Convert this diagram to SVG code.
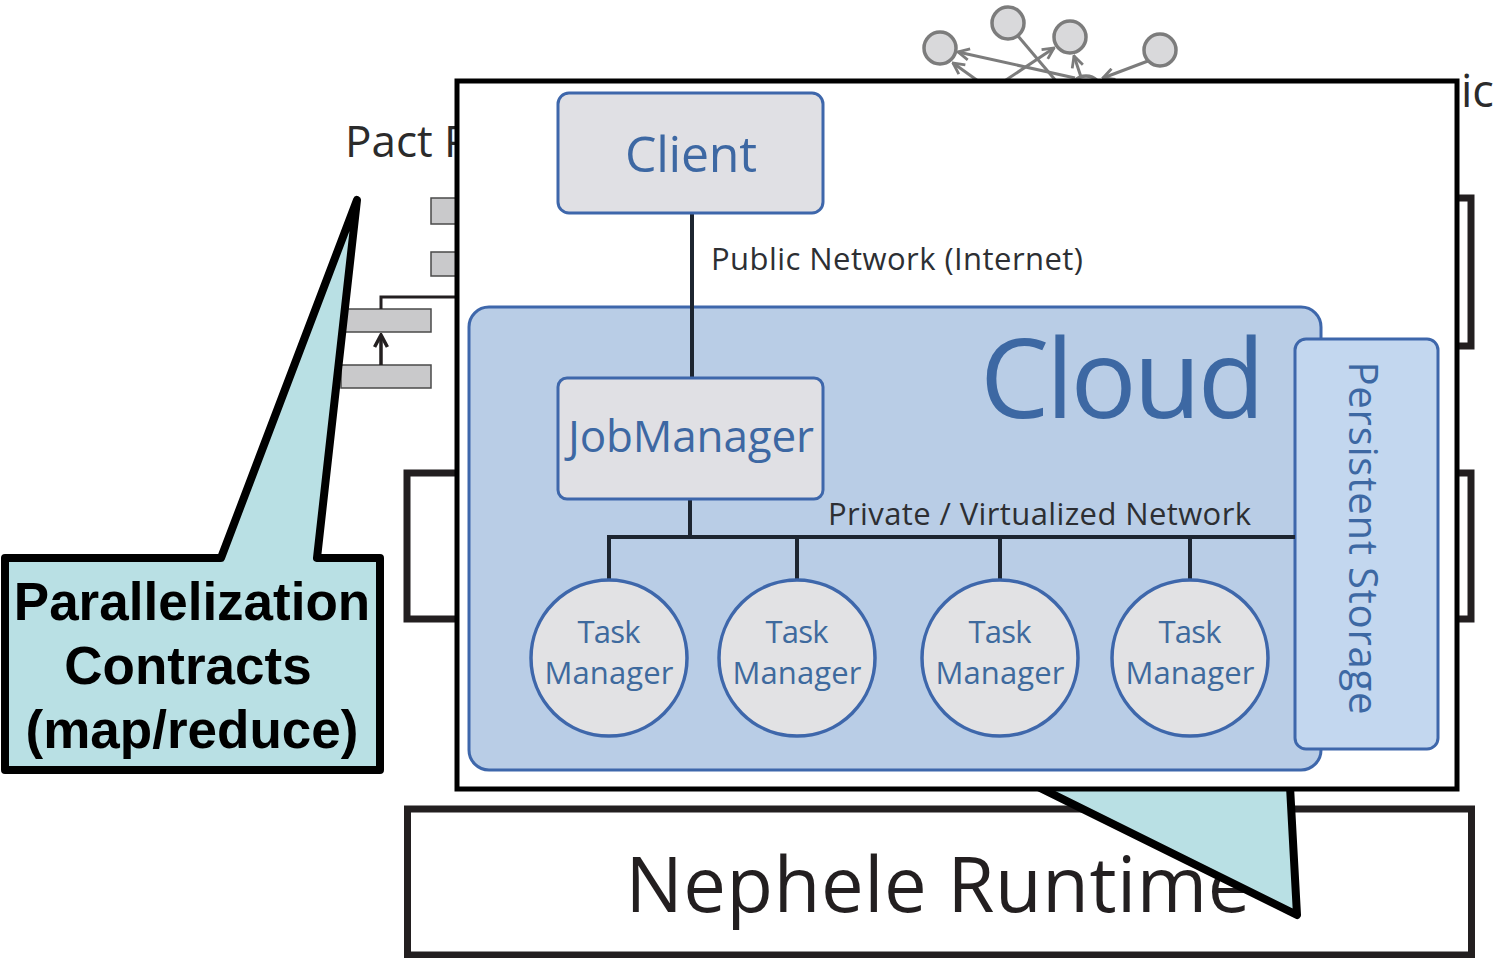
<svg xmlns="http://www.w3.org/2000/svg" width="1497" height="958" viewBox="0 0 1497 958">
<defs>
<style>
.bg-text{font-family:"Open Sans","Liberation Sans",sans-serif;fill:#2b2b2b}
.gnode{fill:#d9d9db;stroke:#7c7c7c;stroke-width:3.5}
.gedge{stroke:#7c7c7c;stroke-width:3;fill:none}
.bar{fill:#c9c9cb;stroke:#4a4a4a;stroke-width:1.5}
.bracket{fill:none;stroke:#231f20;stroke-width:7}
.callout{fill:#b9e0e4;stroke:#000;stroke-width:8;stroke-linejoin:round}
.ctext{font-family:"Liberation Sans",Arial,sans-serif;font-weight:bold;font-size:53px;fill:#000;text-anchor:middle}
.box{fill:#e0e0e4;stroke:#3e67ab;stroke-width:3}
.btext{font-family:"Open Sans","Noto Sans",sans-serif;fill:#3d68a3;text-anchor:middle}
.cloudtext{font-family:"Open Sans","Noto Sans",sans-serif;fill:#3d68a3;text-anchor:start}
.ltext{font-family:"Open Sans","Noto Sans",sans-serif;fill:#2d2f33;font-size:31px}
.wire{stroke:#1d2530;stroke-width:4;fill:none}
.tm{fill:#e2e2e4;stroke:#3e67ab;stroke-width:3.5}
.tmtext{font-family:"Open Sans","Noto Sans",sans-serif;font-size:31px;fill:#3e6a9e;text-anchor:middle}
</style>
<marker id="garrow" viewBox="0 0 10 10" refX="9" refY="5" markerWidth="14" markerHeight="14" markerUnits="userSpaceOnUse" orient="auto">
<path d="M1,1 L9,5 L1,9" fill="none" stroke="#7c7c7c" stroke-width="2"/>
</marker>
<marker id="barrow" viewBox="0 0 10 10" refX="9" refY="5" markerWidth="16" markerHeight="16" markerUnits="userSpaceOnUse" orient="auto">
<path d="M1.5,1 L9,5 L1.5,9" fill="none" stroke="#231f20" stroke-width="2.2"/>
</marker>
</defs>
<rect x="0" y="0" width="1497" height="958" fill="#ffffff"/>

<!-- background: top graph -->
<g id="bg-graph">
<g class="connectors">
<path class="gedge" d="M1075,78 L958,52" marker-end="url(#garrow)"/>
<path class="gedge" d="M1000,84 L1054,48" marker-end="url(#garrow)"/>
<path class="gedge" d="M1018,36 L1062,88"/>
<path class="gedge" d="M1082,80 L1074,56" marker-end="url(#garrow)"/>
<path class="gedge" d="M1148,61 L1103,78" marker-end="url(#garrow)"/>
<path class="gedge" d="M985,86 L953,63" marker-end="url(#garrow)"/>
</g>
<circle id="g1" class="gnode" cx="940" cy="48" r="16"/>
<circle id="g2" class="gnode" cx="1008" cy="23" r="16"/>
<circle id="g3" class="gnode" cx="1070" cy="37" r="16"/>
<circle id="g4" class="gnode" cx="1160" cy="50" r="16"/>
<circle id="g5" class="gnode" cx="1086" cy="92" r="16"/>
</g>

<text class="bg-text" x="1461" y="107" font-size="45">ic</text>
<text class="bg-text" x="345" y="157" font-size="44">Pact P</text>

<!-- background: small bars -->
<g id="bg-bars">
<rect class="bar" x="431" y="198" width="40" height="26"/>
<rect class="bar" x="431" y="252" width="40" height="24"/>
<rect class="bar" x="341" y="309" width="90" height="23"/>
<rect class="bar" x="341" y="365" width="90" height="23"/>
<g class="connectors">
<path d="M381,309 L381,297 L470,297" fill="none" stroke="#231f20" stroke-width="3"/>
<path d="M381,365 L381,335" fill="none" stroke="#231f20" stroke-width="3.5" marker-end="url(#barrow)"/>
</g>
</g>

<!-- background: brackets -->
<rect class="bracket" x="407" y="473" width="300" height="146"/>
<rect class="bracket" x="1200" y="473" width="271" height="146"/>
<rect class="bracket" x="1200" y="198" width="271" height="148"/>

<!-- Nephele Runtime -->
<g id="nephele">
<rect x="407.5" y="809" width="1064" height="146" fill="#ffffff" stroke="#231f20" stroke-width="7"/>
<text x="938" y="912" font-family="Open Sans, Liberation Sans, sans-serif" font-size="76" fill="#231f20" text-anchor="middle" textLength="625">Nephele Runtime</text>
</g>

<!-- bottom callout pointer -->
<polygon id="callout-bottom" class="callout" points="1000,768 1297,915 1289,768"/>

<!-- overlay -->
<g id="overlay">
<rect x="457" y="81" width="1000" height="708" fill="#ffffff" stroke="#000" stroke-width="5"/>

<g id="cloud">
<rect x="469" y="307" width="852" height="463" rx="20" fill="#b9cde6" stroke="#3e67ab" stroke-width="3"/>
<text class="cloudtext" x="980" y="418" font-size="110" textLength="285">Cloud</text>
</g>

<g id="storage">
<rect x="1295" y="339" width="143" height="410" rx="11" fill="#c3d7ef" stroke="#3e67ab" stroke-width="3"/>
<text class="btext" transform="translate(1349,538) rotate(90)" x="0" y="0" font-size="40" textLength="353">Persistent Storage</text>
</g>

<g id="wires">
<path class="wire" d="M692,213 L692,378"/>
<path class="wire" d="M690,499 L690,537"/>
<path class="wire" d="M607,537 L1295,537"/>
<path class="wire" d="M609,535 L609,581"/>
<path class="wire" d="M797,535 L797,581"/>
<path class="wire" d="M1000,535 L1000,581"/>
<path class="wire" d="M1190,535 L1190,581"/>
</g>
<text class="ltext" x="711" y="270" textLength="372">Public Network (Internet)</text>
<text class="ltext" x="828" y="525" textLength="423">Private / Virtualized Network</text>

<g id="client">
<rect class="box" x="558" y="93" width="265" height="120" rx="11"/>
<text class="btext" x="691" y="172" font-size="50" textLength="132">Client</text>
</g>

<g id="jobmanager">
<rect class="box" x="558" y="378" width="265" height="121" rx="9"/>
<text class="btext" x="691" y="452" font-size="44" textLength="246">JobManager</text>
</g>

<g id="tm1">
<circle class="tm" cx="609" cy="658" r="78"/>
<text class="tmtext" x="609" y="643" textLength="63">Task</text>
<text class="tmtext" x="609" y="684" textLength="129">Manager</text>
</g>
<g id="tm2">
<circle class="tm" cx="797" cy="658" r="78"/>
<text class="tmtext" x="797" y="643" textLength="63">Task</text>
<text class="tmtext" x="797" y="684" textLength="129">Manager</text>
</g>
<g id="tm3">
<circle class="tm" cx="1000" cy="658" r="78"/>
<text class="tmtext" x="1000" y="643" textLength="63">Task</text>
<text class="tmtext" x="1000" y="684" textLength="129">Manager</text>
</g>
<g id="tm4">
<circle class="tm" cx="1190" cy="658" r="78"/>
<text class="tmtext" x="1190" y="643" textLength="63">Task</text>
<text class="tmtext" x="1190" y="684" textLength="129">Manager</text>
</g>
</g>

<!-- left callout -->
<g id="callout-left">
<path class="callout" d="M5,558 L221,558 L357,200 L317,558 L380,558 L380,770 L5,770 Z"/>
<text class="ctext" x="192" y="620">Parallelization</text>
<text class="ctext" x="188" y="684">Contracts</text>
<text class="ctext" x="192" y="748">(map/reduce)</text>
</g>
</svg>
